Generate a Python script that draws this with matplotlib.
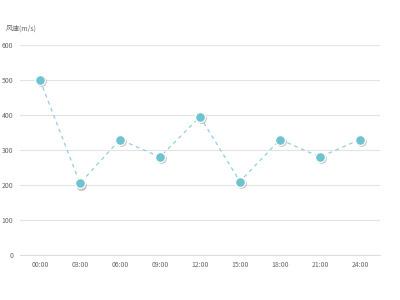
import matplotlib
matplotlib.use("Agg")
import matplotlib.pyplot as plt
import matplotlib.transforms as mtransforms

plt.rcParams['font.family'] = ['Noto Sans CJK SC', 'DejaVu Sans']

times = ['00:00', '03:00', '06:00', '09:00', '12:00', '15:00', '18:00', '21:00', '24:00']
speed = [500, 205, 330, 280, 395, 210, 330, 280, 330]
yticks = [0, 100, 200, 300, 400, 500, 600]

fig = plt.figure(figsize=(4, 3), dpi=100)
ax = fig.add_axes([0.05, 0.15, 0.90, 0.70])

x = list(range(len(times)))

ax.plot(x, speed, linestyle=(0, (3, 3)), color='#8fd0dc', linewidth=0.9, zorder=2)

# soft shadow under the markers
shadow = mtransforms.offset_copy(ax.transData, fig=fig, x=0.9, y=-0.9, units='points')
ax.plot(x, speed, linestyle='none', marker='o', markersize=7.6,
        markerfacecolor='#8a8a8a', markeredgecolor='none', alpha=0.6,
        transform=shadow, zorder=3)
ax.plot(x, speed, linestyle='none', marker='o', markersize=7.2,
        markerfacecolor='#6fc2cf', markeredgecolor='white', markeredgewidth=1.0,
        zorder=4)

ax.set_xlim(-0.5, len(times) - 0.5)
ax.set_ylim(0, 600)
ax.set_yticks(yticks)
ax.set_xticks(x)
ax.set_xticklabels(times)
ax.grid(axis='y', color='#e3e3e3', linewidth=0.8)
ax.set_axisbelow(True)
for s in ['top', 'right', 'left']:
    ax.spines[s].set_visible(False)
ax.spines['bottom'].set_color('#dddddd')
ax.spines['bottom'].set_linewidth(0.8)
ax.tick_params(axis='both', length=0, labelsize=5, colors='#666666', pad=4)
ax.tick_params(axis='y', pad=5)

fig.text(0.015, 0.905, '风速(m/s)', fontsize=5, color='#666666', va='center', ha='left')

fig.savefig('out.png', dpi=100, facecolor='white')
